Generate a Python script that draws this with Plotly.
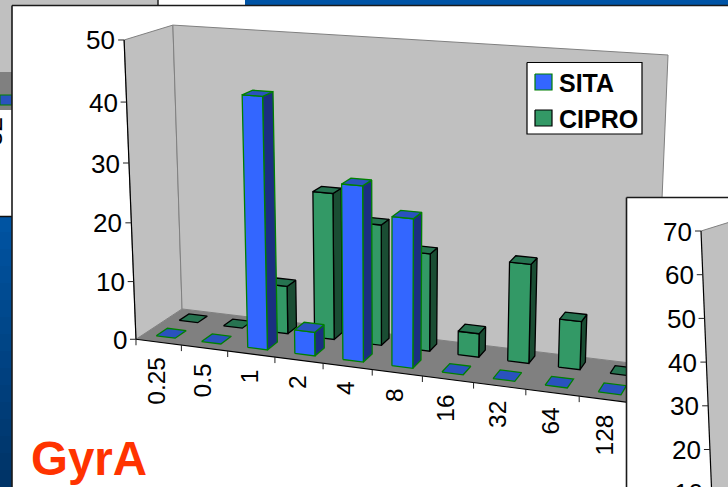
import numpy as np
import plotly.graph_objects as go

# MIC distribution for the GyrA mutants, % of isolates per dilution
categories = ["0.25", "0.5", "1", "2", "4", "8", "16", "32", "64", "128"]
sita = [0, 0, 42, 4, 29, 24.5, 0, 0, 0, 0]
cipro = [0, 0, 8.3, 25, 20.5, 16.5, 4, 16.5, 8, 0]
value_ticks = [0, 10, 20, 30, 40, 50]
inset_ticks = [10, 20, 30, 40, 50, 60, 70]

FONT = "Liberation Sans, Arial, sans-serif"
BLUE = ("#3366FF", "#2A52BE", "#1A2F80", "#008000")
GREEN = ("#339966", "#267350", "#1A4D33", "#000000")

# Camera: (category, depth, value) -> page pixel, solved from the box corners
calib = [
    ((0, 0, 0), (137, 339)), ((0, 0, 50), (125, 40)), ((0, 1, 50), (173, 25)),
    ((0, 1, 0), (182, 309)), ((10, 1, 50), (668, 55)), ((10, 1, 0), (655, 366)),
    ((10, 0, 0), (634, 403)), ((1, 0, 0), (182, 345)), ((5, 0, 0), (372, 370)),
    ((9, 0, 0), (579, 396)), ((0, 0, 20), (129, 223)),
]
rows = []
for (u, d, z), (px, py) in calib:
    rows.append([u, d, z, 1, 0, 0, 0, 0, -px * u, -px * d, -px * z, -px])
    rows.append([0, 0, 0, 0, u, d, z, 1, -py * u, -py * d, -py * z, -py])
P = np.linalg.svd(np.array(rows, float))[2][-1].reshape(3, 4)


def project(u, d, z):
    x, y, w = P @ np.array([u, d, z, 1.0])
    return x / w, y / w


fig = go.Figure()


def poly(points, fill=None, line=None, width=1.0):
    xs = [p[0] for p in points]
    ys = [p[1] for p in points]
    if fill:
        xs.append(xs[0])
        ys.append(ys[0])
    fig.add_trace(go.Scatter(
        x=xs, y=ys, mode="lines", hoverinfo="skip", showlegend=False,
        fill="toself" if fill else "none", fillcolor=fill,
        line=dict(color=line or fill or "rgba(0,0,0,0)", width=width if line else 0),
    ))


def rect(x0, y0, x1, y1, fill, line=None, width=1.0):
    poly([(x0, y0), (x1, y0), (x1, y1), (x0, y1)], fill, line, width)


def text(x, y, s, size, color="#000000", bold=False, xanchor="center", yanchor="middle", angle=0):
    fig.add_annotation(
        x=x, y=y, text=f"<b>{s}</b>" if bold else s, showarrow=False, textangle=angle,
        xanchor=xanchor, yanchor=yanchor, borderpad=0, borderwidth=0,
        font=dict(family=FONT, size=size, color=color),
    )


def bar(cat, d0, d1, value, colors):
    front, top, side, edge = colors
    u0, u1 = cat + 0.28, cat + 0.70
    if value > 0:
        poly([project(u1, d0, 0), project(u1, d1, 0), project(u1, d1, value), project(u1, d0, value)],
             side, edge, 1.3)
        poly([project(u0, d0, 0), project(u1, d0, 0), project(u1, d0, value), project(u0, d0, value)],
             front, edge, 1.3)
    poly([project(u0, d0, value), project(u1, d0, value), project(u1, d1, value), project(u0, d1, value)],
         top, edge, 1.3)


# Slides stacked behind the main panel
rect(0, 0, 728, 487, "#0054A6")
for i in range(16):
    y0 = 215 + i * 17
    shade = 1 - i / 15
    rect(0, y0, 12, y0 + 18, f"rgb(0,{int(52 + 32 * shade)},{int(104 + 58 * shade)})")
rect(0, 0, 158, 72, "#C0C0C0")
rect(158, 0, 245, 6, "#FFFFFF")
rect(0, 72, 12, 110, "#808080")
rect(0, 95, 12, 105, "#2A52BE", "#008000", 1)
rect(0, 110, 12, 216, "#FFFFFF")
poly([(158, 0), (158, 5)], None, "#222222", 1.5)
poly([(0, 216.5), (12, 216.5)], None, "#111111", 1.5)

# Main panel
rect(12, 5.5, 740, 500, "#FFFFFF", "#1A1A1A", 1.6)

# Walls and floor
poly([project(0, 0, 0), project(0, 0, 50), project(0, 1, 50), project(0, 1, 0)], "#C0C0C0", "#808080", 1)
poly([project(0, 1, 0), project(0, 1, 50), project(10, 1, 50), project(10, 1, 0)], "#C0C0C0", "#808080", 1)
poly([project(0, 0, 0), project(0, 1, 0), project(10, 1, 0), project(10, 0, 0)], "#808080")

# Axes and ticks
poly([project(0, 0, 0), project(0, 0, 50)], None, "#000000", 1.2)
poly([project(0, 0, 0), project(10, 0, 0)], None, "#000000", 1.2)
for v in value_ticks:
    x, y = project(0, 0, v)
    poly([(x - 6, y), (x, y)], None, "#222222", 1)
    text(x - 9, y + 0.5, str(v), 26, xanchor="right")
for i, cat in enumerate(categories):
    x, y = project(i, 0, 0)
    poly([(x, y), (x, y + 6)], None, "#222222", 1)
    lx, ly = project(i + 0.5, 0, 0)
    text(lx - 2, ly + 15, cat, 24.5, yanchor="top", angle=-90)

# Bars: rear series first so the front row overlaps it
for i, v in enumerate(cipro):
    bar(i, 0.66, 0.88, v, GREEN)
for i, v in enumerate(sita):
    bar(i, 0.16, 0.40, v, BLUE)

# Legend
rect(527, 62.5, 642, 134, "#FFFFFF", "#000000", 1.2)
rect(535, 74, 552, 90, BLUE[0], BLUE[3], 1.2)
rect(535, 110, 552, 126, GREEN[0], "#000000", 1.2)
text(559, 83, "SITA", 25, bold=True, xanchor="left")
text(559, 119, "CIPRO", 25, bold=True, xanchor="left")

# Panel heading
text(31, 458, "GyrA", 47.5, color="#FF3300", bold=True, xanchor="left")

# Fragment of the neighbouring slide's labels at the left edge
text(8, 132, "32", 26, xanchor="right", angle=-90)

# Second chart panel overlapping on the right
rect(626.5, 197.5, 740, 500, "#FFFFFF", "#1A1A1A", 1.6)
poly([(701, 231), (730, 222), (730, 500), (712, 500)], "#C0C0C0")
poly([(701, 231), (730, 222)], None, "#808080", 1)
poly([(701, 231), (712, 500)], None, "#000000", 1.2)
for v in inset_ticks:
    y = 231 + (70 - v) * 4.37
    x = 701 + (y - 231) * 11 / 269
    if v > 10:
        poly([(x - 6, y), (x, y)], None, "#222222", 1)
        text(x - 9, y + 0.5, str(v), 26, xanchor="right")
    else:
        text(x - 9, 478, str(v), 26, xanchor="right", yanchor="top")

fig.update_layout(
    width=728, height=487, margin=dict(l=0, r=0, t=0, b=0), autosize=False,
    paper_bgcolor="#FFFFFF", plot_bgcolor="#FFFFFF", showlegend=False,
    xaxis=dict(range=[0, 728], visible=False, fixedrange=True),
    yaxis=dict(range=[487, 0], visible=False, fixedrange=True),
)
fig.write_html("out.html", config={"displayModeBar": False})
